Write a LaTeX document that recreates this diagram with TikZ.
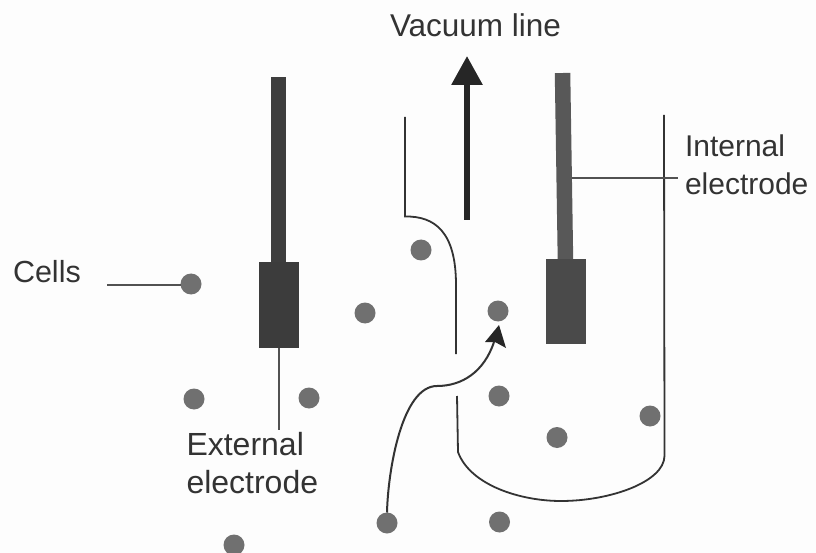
\documentclass[tikz,border=0pt]{standalone}
\usepackage{fontspec}
\setmainfont{Liberation Sans}
\usetikzlibrary{arrows.meta}
\definecolor{paper}{HTML}{FDFDFD}
\definecolor{ink}{HTML}{333333}
\definecolor{cellgrey}{HTML}{707070}
\definecolor{stemL}{HTML}{3E3E3E}
\definecolor{blockL}{HTML}{3C3C3C}
\definecolor{stemR}{HTML}{585858}
\definecolor{blockR}{HTML}{4A4A4A}
\tikzset{
  lbl/.style={anchor=base west,inner sep=0pt,outer sep=0pt,text=ink},
  cell/.style={circle,fill=cellgrey,draw=none,minimum size=21pt,inner sep=0pt,outer sep=0pt},
  part/.style={rectangle,draw=none,inner sep=0pt,outer sep=0pt},
  wall/.style={draw=ink,line width=1.8pt},
  leader/.style={draw=ink!85,line width=1.3pt},
  flow/.style={draw=ink,line width=2pt},
  pump/.style={draw=black!85,line width=6pt,-{Triangle[length=29pt,width=30pt]}}
}
\begin{document}
\begin{tikzpicture}[x=1pt,y=-1pt]
\useasboundingbox (0,0) rectangle (816,553);
\fill[paper] (0,0) rectangle (816,553);
% electrodes
\node[part,fill=stemL,minimum width=15pt,minimum height=186pt] (stemA) at (278.5,170) {};
\node[part,fill=blockL,minimum width=40pt,minimum height=86pt] (blockA) at (279,305) {};
\node[part,fill=stemR,minimum width=15.5pt,minimum height=188pt,rotate=0.9] (stemB) at (564,167) {};
\node[part,fill=blockR,minimum width=40pt,minimum height=85pt] (blockB) at (566,301.5) {};
% cells
\node[cell] (c1) at (191,284) {};
\node[cell] (c2) at (365,313) {};
\node[cell] (c3) at (498,311) {};
\node[cell] (c4) at (194,399) {};
\node[cell] (c5) at (309,398) {};
\node[cell] (c6) at (499,396) {};
\node[cell] (c7) at (557,437.5) {};
\node[cell] (c8) at (650,416) {};
\node[cell] (c9) at (387,523) {};
\node[cell] (c10) at (499.5,522) {};
\node[cell] (c11) at (234,545) {};
\node[cell] (c12) at (421,250) {};
% vessel
\draw[wall] (405,117) -- (405,216.5) .. controls (435,216) and (456,232) .. (456,285) -- (456,354);
\draw[wall] (457,396) -- (458,452) .. controls (470,485) and (520,501) .. (561,501)
   .. controls (610,501) and (664,482) .. (664.5,456) -- (664,115);
% labels
\node[lbl,font=\fontsize{31.5}{38}\selectfont] (vac) at (390,37) {Vacuum line};
\node[lbl,font=\fontsize{30.5}{38}\selectfont] (cells) at (13,283) {Cells};
\node[lbl,font=\fontsize{30}{38}\selectfont] (int1) at (685,157) {Internal};
\node[lbl,font=\fontsize{30}{38}\selectfont] (int2) at (685,195) {electrode};
\node[lbl,font=\fontsize{32}{38}\selectfont] (ext1) at (186.5,455) {External};
\node[lbl,font=\fontsize{32}{38}\selectfont] (ext2) at (186.5,493) {electrode};
% leaders
\coordinate (cellsEnd) at (107,285);
\coordinate (intStem) at (572,178);
\coordinate (intEnd) at (678,178);
\coordinate (extEnd) at (279,430);
\draw[leader] (cellsEnd) -- (cellsEnd -| c1.west);
\draw[leader] (intStem) -- (intEnd);
\draw[leader] (blockA.south) -- (extEnd);
% vacuum arrow
\coordinate (pumpStart) at (467,220);
\coordinate (pumpTip) at (467,56);
\draw[pump] (pumpStart) -- (pumpTip);
% cell path
\coordinate (flowTip) at (499,325);
\draw[flow] (c9.north) .. controls (388,470) and (402,386) .. (437,386)
   .. controls (462,386) and (484,372) .. (494,342);
\fill[black!85] (flowTip) -- (506,348) -- (495,342) -- (485,342) -- cycle;
\end{tikzpicture}
\end{document}
